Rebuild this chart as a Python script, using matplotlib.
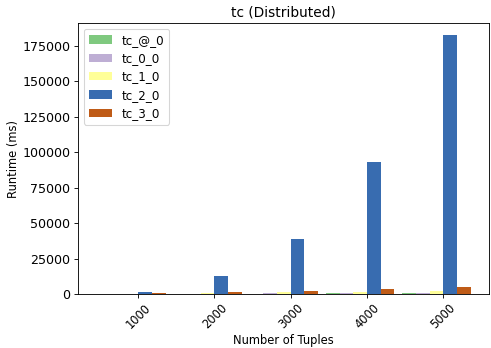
import numpy as np
import matplotlib
matplotlib.use("Agg")
import matplotlib.pyplot as plt

tuples = ["1000", "2000", "3000", "4000", "5000"]
series = ["tc_@_0", "tc_0_0", "tc_1_0", "tc_2_0", "tc_3_0"]

tc_at_0 = [150, 250, 350, 450, 550]
tc_0_0 = [200, 300, 400, 500, 600]
tc_1_0 = [300, 600, 1200, 1600, 2100]
tc_2_0 = [1700, 12700, 38700, 93000, 182700]
tc_3_0 = [600, 1200, 1900, 3700, 4700]

runtimes = [tc_at_0, tc_0_0, tc_1_0, tc_2_0, tc_3_0]
colors = ["#7fc97f", "#beaed4", "#ffff99", "#386cb0", "#bf5b17"]

dpi = 79
fig = plt.figure(figsize=(491 / dpi, 348 / dpi), dpi=dpi)
ax = fig.add_axes([78 / 491, 1 - 294 / 348, (489 - 78) / 491, (294 - 23) / 348])

x = np.arange(len(tuples))
w = 0.18
for i in range(len(series)):
    ax.bar(x + (i - 3) * w, runtimes[i], w, align="edge",
           color=colors[i], label=series[i])

ax.set_xlim(-0.79, 4.60)
ax.set_ylim(0, 191000)
ax.set_xticks(x)
ax.set_xticklabels(tuples, rotation=45)
ax.tick_params(axis="y", labelsize=11.5)
ax.tick_params(axis="x", labelsize=10.5)
ax.set_xlabel("Number of Tuples", fontsize=10.5, labelpad=2)
ax.set_ylabel("Runtime (ms)", fontsize=10.5, labelpad=2)
ax.set_title("tc (Distributed)", fontsize=12.5)
ax.legend(loc="upper left", fontsize=10.8, labelspacing=0.45)

fig.savefig("out.png", dpi=dpi)
